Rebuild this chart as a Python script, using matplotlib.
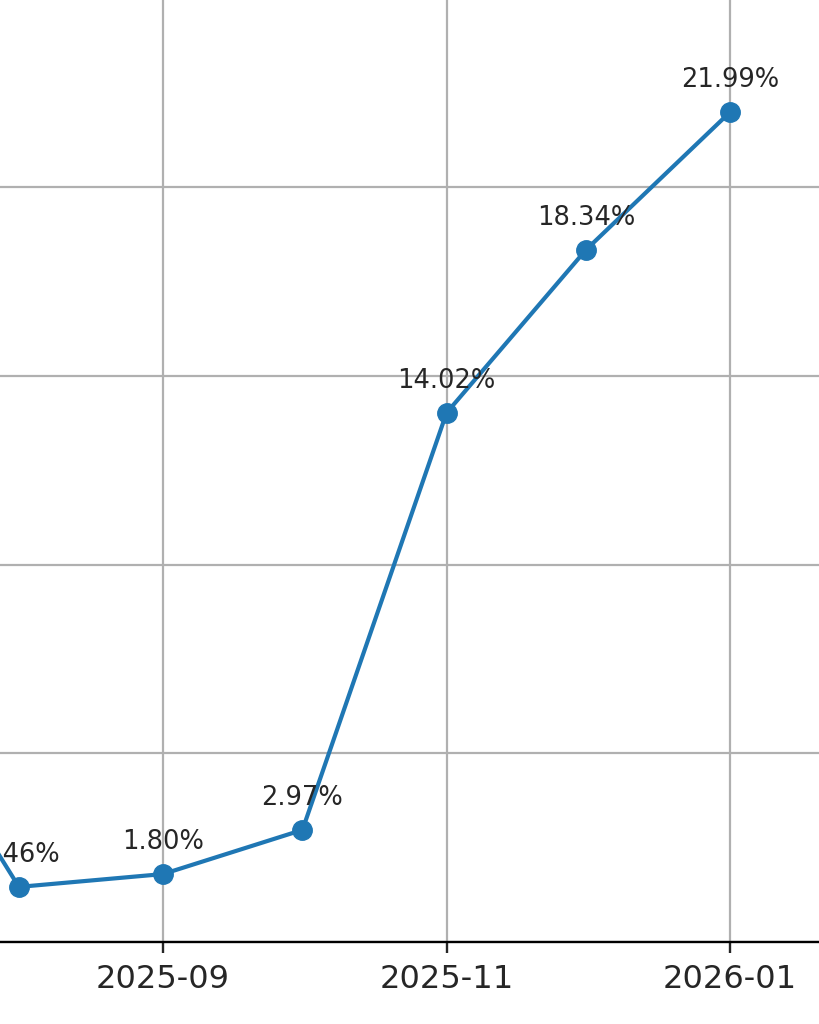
import datetime as dt
import matplotlib
matplotlib.use("Agg")
import matplotlib.pyplot as plt
import matplotlib.dates as mdates

# monthly values (%), the first one lies left of the visible area
months = [dt.date(2025, 7, 1), dt.date(2025, 8, 1), dt.date(2025, 9, 1),
          dt.date(2025, 10, 1), dt.date(2025, 11, 1), dt.date(2025, 12, 1),
          dt.date(2026, 1, 1)]
values = [7.6, 1.46, 1.80, 2.97, 14.02, 18.34, 21.99]

W, H = 819, 1024
fig = plt.figure(figsize=(W / 100, H / 100), dpi=100)

# the view is a zoomed crop, so the axes run past the figure edges
ppd = 4.648          # pixels per day
x_ref = 163          # pixel of 2025-09-01
ppu = 37.74          # pixels per percent
y0_px = 942          # pixel row of 0 %
L, R, T = -200, 900, -30
ax = fig.add_axes([L / W, (H - y0_px) / H, (R - L) / W, (y0_px - T) / H])

ax.plot(months, values, color="#1f77b4", lw=3.0, marker="o", markersize=14)
# only the labels that fall inside the view
for d, v in zip(months[1:], values[1:]):
    ax.annotate(f"{v:.2f}%", (d, v), xytext=(0, 18), textcoords="offset points",
                ha="center", fontsize=18.5, color="#262626")

x0 = mdates.date2num(dt.date(2025, 9, 1))
ax.set_xlim(x0 + (L - x_ref) / ppd, x0 + (R - x_ref) / ppd)
ax.set_ylim(0, (y0_px - T) / ppu)
ax.set_yticks([0, 5, 10, 15, 20, 25])

ax.xaxis.set_major_locator(mdates.MonthLocator(bymonth=[1, 3, 5, 9, 11]))
ax.xaxis.set_major_formatter(mdates.DateFormatter("%Y-%m"))
ax.tick_params(axis="x", labelsize=23, length=8, width=1.7, pad=8, colors="#262626")
ax.tick_params(axis="y", labelleft=False, length=0)
for s in ax.spines.values():
    s.set_linewidth(1.7)
ax.grid(True, color="#b0b0b0", lw=1.6)

fig.savefig("out.png", dpi=100)
